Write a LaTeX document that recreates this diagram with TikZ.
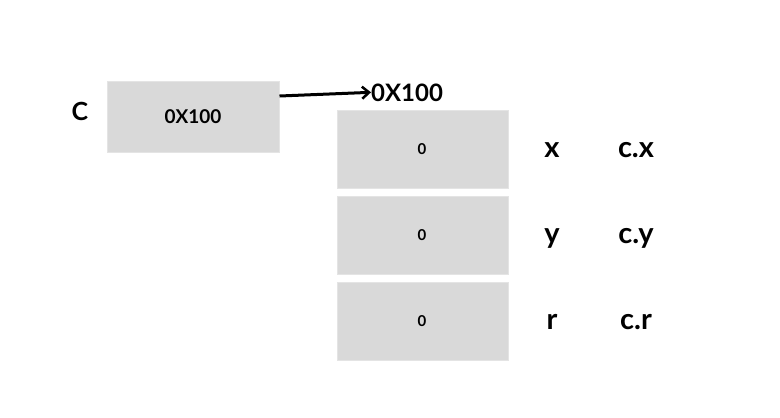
\documentclass[tikz,border=0pt]{standalone}
\usepackage{fontspec}
\setmainfont{Lato}
\usetikzlibrary{arrows.meta}
\definecolor{cellgray}{HTML}{D9D9D9}
\definecolor{celledge}{HTML}{E4E4E4}
\tikzset{
  cell/.style={draw=celledge, line width=1pt, fill=cellgray, minimum width=171pt, minimum height=78pt, inner sep=0pt},
  txt/.style={anchor=base, inner sep=0pt},
  reflabel/.style={txt, font=\fontsize{24}{24}\selectfont\bfseries},
  cellval/.style={txt, font=\fontsize{15}{15}\selectfont\bfseries},
  fieldlab/.style={txt, font=\fontsize{29}{29}\selectfont\bfseries},
}
\begin{document}
\begin{tikzpicture}[x=1pt,y=-1pt]
\useasboundingbox (0,0) rectangle (780,418);
\node[cell, minimum width=172pt, minimum height=71pt] (cbox) at (193,116.5) {};
\node[txt, font=\fontsize{19}{19}\selectfont\bfseries] (cval) at (193,123) {0X100};
\node[txt, font=\fontsize{25}{25}\selectfont\bfseries] (cname) at (80,120) {C};
\node[cell] (f1) at (422.5,149) {};
\node[cell] (f2) at (422.5,235) {};
\node[cell] (f3) at (422.5,321) {};
\node[cellval] (v1) at (422,154.5) {0};
\node[cellval] (v2) at (422,240.5) {0};
\node[cellval] (v3) at (422,326.5) {0};
\node[reflabel, anchor=base west] (addr) at (371,101) {0X100};
\draw[line width=3pt, -{Straight Barb[length=7pt,width=12pt,line width=2.5pt]}] (cbox.east |- 0,96) -- (addr.west);
\node[fieldlab] (n1) at (552,157) {x};
\node[fieldlab] (n2) at (552,243) {y};
\node[fieldlab] (n3) at (552,329) {r};
\node[fieldlab] (q1) at (636,157) {c.x};
\node[fieldlab] (q2) at (636,243) {c.y};
\node[fieldlab] (q3) at (636,329) {c.r};
\end{tikzpicture}
\end{document}
